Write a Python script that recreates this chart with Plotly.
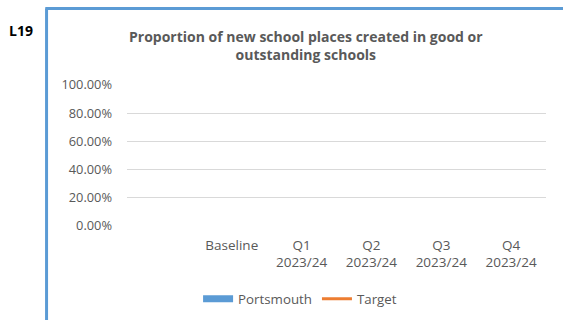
import plotly.graph_objects as go

# Quarterly reporting periods (first slot left empty on the axis)
categories = [" ", "Baseline", "Q1<br>2023/24", "Q2<br>2023/24", "Q3<br>2023/24", "Q4<br>2023/24"]
portsmouth = [None, None, None, None, None, None]
target = [None, None, None, None, None, None]
y_ticks = [0, 0.2, 0.4, 0.6, 0.8, 1.0]
y_labels = ["0.00%", "20.00%", "40.00%", "60.00%", "80.00%", "100.00%"]

BLUE = "#5B9BD5"
ORANGE = "#ED7D31"
GREY = "#595959"
FONT = "Open Sans"

fig = go.Figure()
fig.add_trace(go.Bar(x=categories, y=portsmouth, name="Portsmouth",
                     marker_color=BLUE, showlegend=False))
# legend key drawn as a wide block like the spreadsheet style
fig.add_trace(go.Scatter(x=categories, y=portsmouth, name="Portsmouth", mode="lines",
                         line=dict(color=BLUE, width=7)))
fig.add_trace(go.Scatter(x=categories, y=target, name="Target", mode="lines",
                         line=dict(color=ORANGE, width=3)))

fig.update_layout(
    width=563, height=320,
    margin=dict(l=127, r=17, t=85, b=94, autoexpand=False),
    paper_bgcolor="white", plot_bgcolor="white",
    font=dict(family=FONT, color=GREY, size=13),
    xaxis=dict(type="category", categoryorder="array", categoryarray=categories,
               range=[-0.5, 5.5], showgrid=False, zeroline=False, showline=False,
               ticks="", tickfont=dict(size=13.5, color=GREY), automargin=False,
               ticklabelstandoff=9),
    yaxis=dict(range=[0, 1], tickvals=y_ticks, ticktext=y_labels,
               showgrid=True, gridcolor="#D9D9D9", gridwidth=1, zeroline=False,
               showline=False, ticks="", tickfont=dict(size=12.8, color=GREY),
               ticklabelstandoff=14, automargin=False),
    legend=dict(orientation="h", x=0.533, xref="container", xanchor="center",
                y=1 - 299 / 320, yref="container", yanchor="middle",
                font=dict(size=13.3, color=GREY), tracegroupgap=0),
    showlegend=True,
)

# chart title
fig.add_annotation(text="<b>Proportion of new school places created in good or<br>outstanding schools</b>",
                   xref="paper", yref="paper", x=0.427, y=1.28, xanchor="center", yanchor="middle",
                   showarrow=False, font=dict(family=FONT, size=14, color=GREY))
# indicator code
fig.add_annotation(text="<b>L19</b>", xref="paper", yref="paper", x=-0.252, y=1.39,
                   xanchor="center", yanchor="middle", showarrow=False,
                   font=dict(family=FONT, size=14, color="#000000"))

# chart frame (left and top edges)
fig.add_shape(type="line", xref="paper", yref="paper", x0=-0.192, x1=-0.192, y0=-0.7, y1=1.543,
              line=dict(color=BLUE, width=3))
fig.add_shape(type="line", xref="paper", yref="paper", x0=-0.195, x1=1.1, y0=1.543, y1=1.543,
              line=dict(color=BLUE, width=3))

fig.write_html("out.html")
